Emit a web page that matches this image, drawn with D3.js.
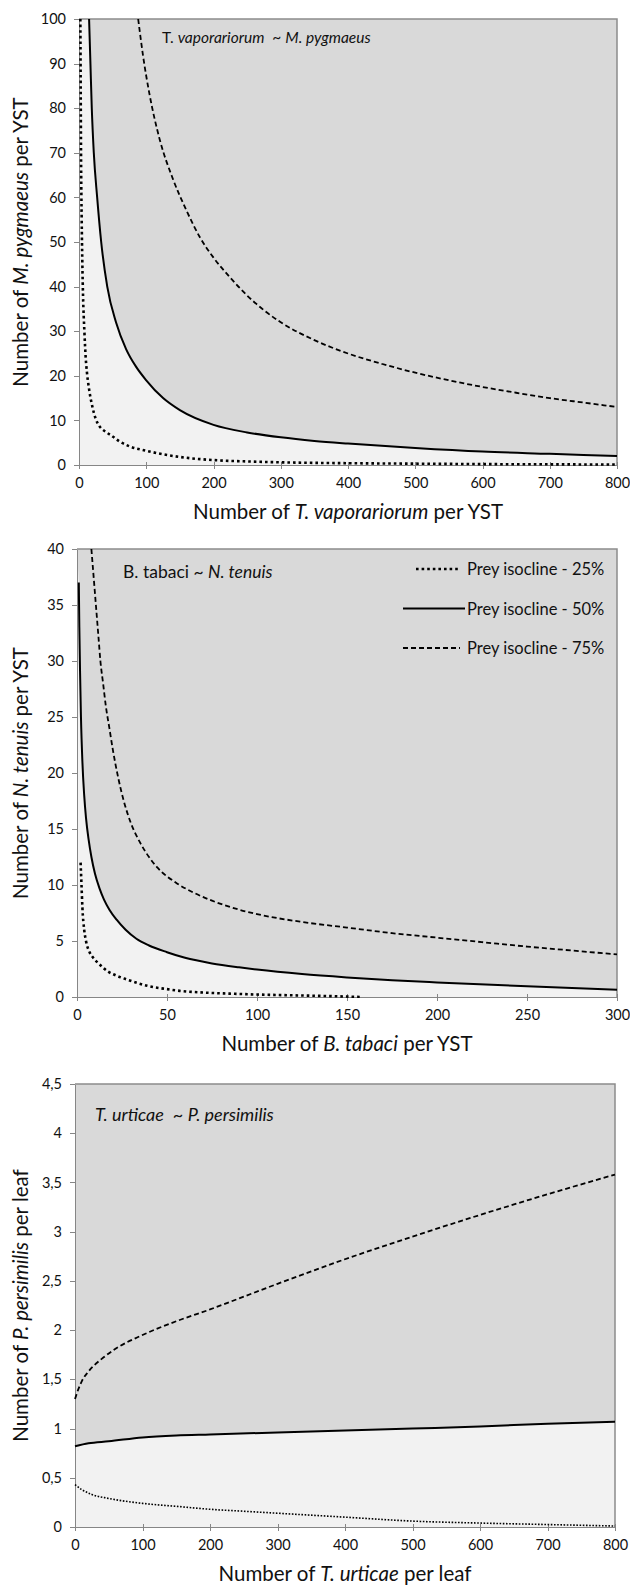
<!DOCTYPE html>
<html lang="en">
<head>
    <meta charset="UTF-8">
    <title>Prey isoclines</title>
    <script src="https://d3js.org/d3.v7.min.js"></script>
    <style>
        body { margin: 0; background: #fff; }
        svg { display: block; }
        text { font-family: Lato, "Open Sans", sans-serif; fill: #111; }
        .tick text { font-size: 14.5px; }
        .axis path, .axis line { stroke: #868686; shape-rendering: crispEdges; }
    </style>
</head>
<body>
    <svg width="630" height="1585"></svg>
    <script>
        // T. vaporariorum ~ M. pygmaeus  [x, y]
        const vapIso25 = [[2,100],[2.5,85],[3,70],[4,55],[5,45],[6,38],[8,30],[10,24],[12,20.5],[15,17],[20,13],[25,10.3],[30,8.8],[40,7.4],[50,6.4],[60,5.3],[75,4.2],[100,3.2],[125,2.4],[150,1.8],[200,1.1],[250,0.8],[300,0.6],[400,0.4],[500,0.3],[600,0.2],[700,0.15],[800,0.1]];
        const vapIso50 = [[15,100],[17,90],[19,80],[22,70],[27,60],[33,50],[42,40],[55,32],[70,26],[85,22],[100,19],[125,15],[150,12.3],[200,9],[250,7.3],[300,6.2],[350,5.4],[400,4.8],[500,3.8],[600,3],[700,2.5],[800,2]];
        const vapIso75 = [[88,100],[95,92],[105,83],[120,73],[140,64],[160,57],[180,51],[200,46.5],[225,42],[250,38],[275,34.7],[300,32],[350,28],[400,25],[450,22.7],[500,20.7],[550,19],[600,17.5],[650,16.2],[700,15],[750,14],[800,13]];
        const vapXTicks = [0, 100, 200, 300, 400, 500, 600, 700, 800];
        const vapYTicks = [0, 10, 20, 30, 40, 50, 60, 70, 80, 90, 100];

        // B. tabaci ~ N. tenuis
        const tabIso25 = [[2,12],[2.5,10],[3,8],[4,6],[5,5],[7,4],[9,3.5],[12,3],[17,2.3],[22,1.9],[28,1.55],[39,1.0],[50,0.7],[57,0.55],[70,0.4],[85,0.3],[100,0.22],[120,0.15],[140,0.08],[158,0]];
        const tabIso50 = [[1,37],[1.3,33],[1.7,29],[2.2,25],[3,21],[4,18],[5,16],[6.5,14],[8,12.5],[10,11],[12.5,9.7],[15,8.7],[18,7.8],[22,6.9],[27,6],[33,5.2],[40,4.6],[50,4],[60,3.5],[75,3],[90,2.65],[100,2.45],[125,2.05],[150,1.75],[175,1.5],[200,1.3],[250,0.95],[300,0.65]];
        const tabIso75 = [[8,40],[9,38],[10,36],[11,34],[12,32],[13,30],[14.5,28],[16,26],[18,24],[20,22],[23,19.5],[26,17.5],[30,15.5],[35,13.8],[40,12.5],[45,11.5],[55,10.2],[65,9.3],[75,8.6],[90,7.8],[100,7.4],[125,6.7],[150,6.2],[175,5.7],[200,5.3],[225,4.9],[250,4.5],[275,4.15],[300,3.8]];
        const tabXTicks = [0, 50, 100, 150, 200, 250, 300];
        const tabYTicks = [0, 5, 10, 15, 20, 25, 30, 35, 40];

        // T. urticae ~ P. persimilis
        const urtIso25 = [[0,0.43],[10,0.38],[25,0.33],[50,0.29],[100,0.24],[150,0.21],[200,0.18],[250,0.16],[300,0.14],[400,0.1],[500,0.06],[600,0.04],[700,0.025],[800,0.01]];
        const urtIso50 = [[0,0.82],[20,0.85],[50,0.87],[100,0.91],[150,0.93],[200,0.94],[300,0.96],[400,0.98],[500,1.0],[600,1.02],[700,1.05],[800,1.07]];
        const urtIso75 = [[0,1.3],[5,1.4],[10,1.48],[20,1.58],[40,1.71],[60,1.81],[100,1.95],[150,2.09],[200,2.21],[250,2.34],[300,2.47],[400,2.72],[500,2.95],[600,3.17],[700,3.38],[800,3.58]];
        const urtXTicks = [0, 100, 200, 300, 400, 500, 600, 700, 800];
        const urtYTicks = [0, 0.5, 1, 1.5, 2, 2.5, 3, 3.5, 4, 4.5];

        const legendLabels = ["Prey isocline - 25%", "Prey isocline - 50%", "Prey isocline - 75%"];

        const svg = d3.select("svg");
        const styles = {
            dot: { width: 2.6, dash: "2.6,3" },
            dotFine: { width: 1.6, dash: "1.6,1.6" },
            solid: { width: 2, dash: null },
            dash: { width: 1.8, dash: "5,3" }
        };

        function addRich(sel, parts) {
            parts.forEach(p => {
                sel.append("tspan").attr("font-style", p[1] ? "italic" : "normal").text(p[0]);
            });
        }

        function drawPanel(cfg) {
            const g = svg.append("g");
            const x = d3.scaleLinear().domain(cfg.xDomain).range([cfg.left, cfg.right]);
            const y = d3.scaleLinear().domain(cfg.yDomain).range([cfg.bottom, cfg.top]);
            const [xMin, xMax] = cfg.xDomain, [yMin, yMax] = cfg.yDomain;

            // dark background, light area under the 50% isocline
            g.append("rect")
                .attr("x", cfg.left).attr("y", cfg.top)
                .attr("width", cfg.right - cfg.left).attr("height", cfg.bottom - cfg.top)
                .attr("fill", "#d9d9d9");

            const line = d3.line().x(d => x(d[0])).y(d => y(d[1]));
            const first = cfg.iso50[0], last = cfg.iso50[cfg.iso50.length - 1];
            const poly = [[xMin, first[0] === xMin ? first[1] : yMax]]
                .concat(cfg.iso50)
                .concat([[xMax, last[1]], [xMax, yMin], [xMin, yMin]]);
            g.append("path").attr("d", line(poly) + "Z").attr("fill", "#f2f2f2");

            // top and right border
            g.append("path")
                .attr("d", `M${cfg.left},${cfg.top}H${cfg.right}V${cfg.bottom}`)
                .attr("fill", "none").attr("stroke", "#8c8c8c").attr("stroke-width", 1.5);

            const clipId = "clip" + cfg.id;
            g.append("clipPath").attr("id", clipId).append("rect")
                .attr("x", cfg.left - 1).attr("y", cfg.top - 1)
                .attr("width", cfg.right - cfg.left + 2).attr("height", cfg.bottom - cfg.top + 2);

            const fmt = cfg.fmt || (d => d);
            g.append("g").attr("class", "axis")
                .attr("transform", `translate(0,${cfg.bottom})`)
                .call(d3.axisBottom(x).tickValues(cfg.xTicks).tickSize(4).tickPadding(9).tickSizeOuter(0))
                .call(a => a.selectAll("line").attr("y1", -3));
            g.append("g").attr("class", "axis")
                .attr("transform", `translate(${cfg.left},0)`)
                .call(d3.axisLeft(y).tickValues(cfg.yTicks).tickFormat(fmt).tickSize(5).tickPadding(8).tickSizeOuter(0));
            g.selectAll(".axis path").attr("stroke-width", 1.5);

            const series = [[cfg.iso25, cfg.dotStyle], [cfg.iso50, styles.solid], [cfg.iso75, styles.dash]];
            series.forEach(([data, st]) => {
                g.append("path")
                    .attr("clip-path", `url(#${clipId})`)
                    .attr("d", d3.line().curve(d3.curveMonotoneX).x(d => x(d[0])).y(d => y(d[1]))(data))
                    .attr("fill", "none").attr("stroke", "#000")
                    .attr("stroke-width", st.width)
                    .attr("stroke-dasharray", st.dash);
            });

            addRich(g.append("text").attr("x", cfg.titleX).attr("y", cfg.titleY)
                .style("font-size", cfg.titleSize + "px").style("white-space", "pre"), cfg.title);

            const cx = (cfg.left + cfg.right) / 2, cy = (cfg.top + cfg.bottom) / 2;
            addRich(g.append("text").attr("x", cx).attr("y", cfg.bottom + 54)
                .attr("text-anchor", "middle").style("font-size", "20.5px"), cfg.xLabel);
            addRich(g.append("text").attr("transform", `translate(28,${cy}) rotate(-90)`)
                .attr("text-anchor", "middle").style("font-size", "20.5px"), cfg.yLabel);
            return g;
        }

        drawPanel({
            id: 1, left: 79, right: 617, top: 19, bottom: 465,
            xDomain: [0, 800], yDomain: [0, 100], xTicks: vapXTicks, yTicks: vapYTicks,
            iso25: vapIso25, iso50: vapIso50, iso75: vapIso75, dotStyle: styles.dot,
            titleX: 162, titleY: 43, titleSize: 15.5,
            title: [["T. ", false], ["vaporariorum", true], ["  ~ ", false], ["M. pygmaeus", true]],
            xLabel: [["Number of ", false], ["T. vaporariorum", true], [" per YST", false]],
            yLabel: [["Number of ", false], ["M. pygmaeus", true], [" per YST", false]]
        });

        const p2 = drawPanel({
            id: 2, left: 77, right: 617, top: 549, bottom: 997,
            xDomain: [0, 300], yDomain: [0, 40], xTicks: tabXTicks, yTicks: tabYTicks,
            iso25: tabIso25, iso50: tabIso50, iso75: tabIso75, dotStyle: styles.dot,
            titleX: 123, titleY: 578, titleSize: 17.5,
            title: [["B. tabaci ~ ", false], ["N. tenuis", true]],
            xLabel: [["Number of ", false], ["B. tabaci", true], [" per YST", false]],
            yLabel: [["Number of ", false], ["N. tenuis", true], [" per YST", false]]
        });

        // legend
        const legendStyles = [styles.dot, styles.solid, styles.dash];
        const legendX1 = [416, 403, 403];
        const legendX2 = [458, 465, 460];
        legendLabels.forEach((lab, i) => {
            const ly = 569 + i * 39.5;
            p2.append("line").attr("x1", legendX1[i]).attr("x2", legendX2[i]).attr("y1", ly).attr("y2", ly)
                .attr("stroke", "#000").attr("stroke-width", legendStyles[i].width)
                .attr("stroke-dasharray", legendStyles[i].dash);
            p2.append("text").attr("x", 467).attr("y", ly + 6).style("font-size", "16.5px").text(lab);
        });

        drawPanel({
            id: 3, left: 75, right: 615, top: 1084, bottom: 1527,
            xDomain: [0, 800], yDomain: [0, 4.5], xTicks: urtXTicks, yTicks: urtYTicks,
            fmt: d => String(d).replace(".", ","),
            iso25: urtIso25, iso50: urtIso50, iso75: urtIso75, dotStyle: styles.dotFine,
            titleX: 95, titleY: 1121, titleSize: 18,
            title: [["T. urticae ", true], [" ~ ", false], ["P. persimilis", true]],
            xLabel: [["Number of ", false], ["T. urticae", true], [" per leaf", false]],
            yLabel: [["Number of ", false], ["P. persimilis", true], [" per leaf", false]]
        });
    </script>
</body>
</html>
